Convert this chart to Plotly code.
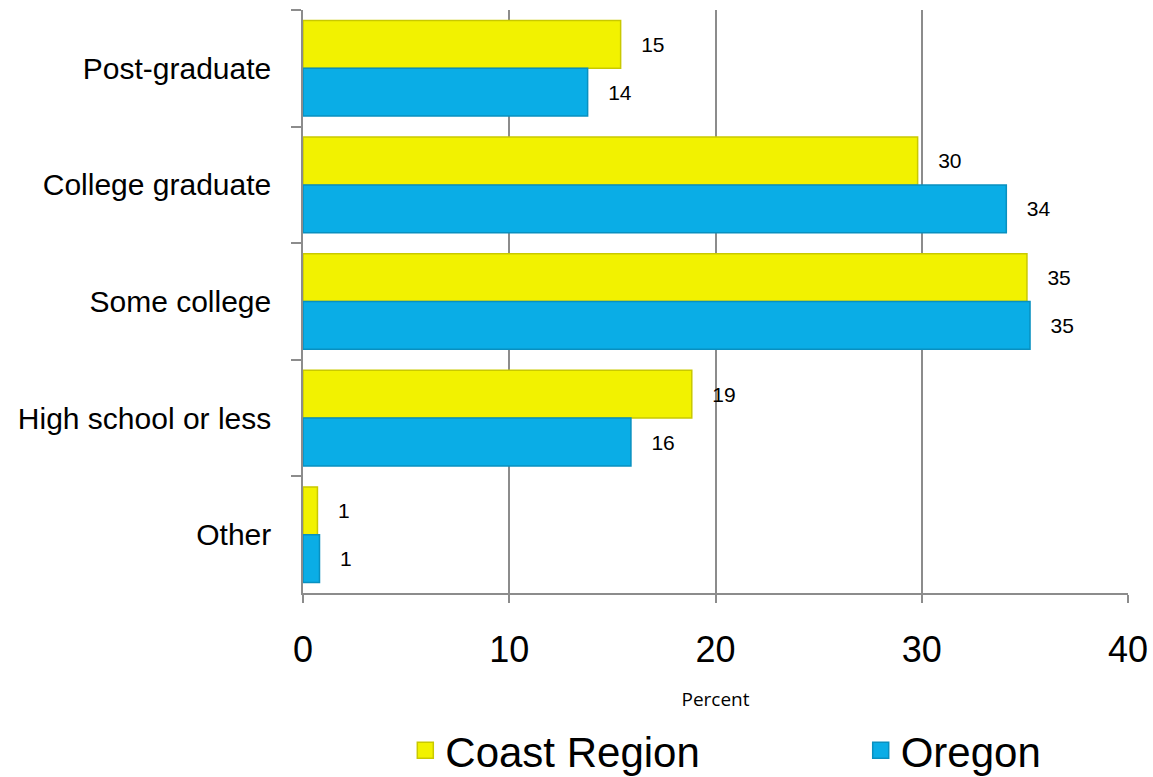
import plotly.graph_objects as go

# Education level shares, percent
categories = ["Post-graduate", "College graduate", "Some college", "High school or less", "Other"]
coast_region = [15.4, 29.8, 35.1, 18.85, 0.7]
oregon = [13.8, 34.1, 35.25, 15.9, 0.8]
x_ticks = [0, 10, 20, 30, 40]

series_names = ["Coast Region", "Oregon"]
fill_colors = ["#F2F200", "#0AADE6"]
edge_colors = ["#C9C900", "#0890C0"]
legend_ids = ["legend", "legend2"]

SANS = "Liberation Sans"
label_font = dict(family=SANS, size=21, color="#000000")
pad = "\u00a0" * 3

fig = go.Figure()
for name, values, fill, edge in zip(series_names, [coast_region, oregon], fill_colors, edge_colors):
    fig.add_trace(go.Bar(
        name=name, y=categories, x=values, orientation="h",
        marker=dict(color=fill, line=dict(color=edge, width=1.5)),
        texttemplate=pad + "%{x:.0f}", textposition="outside",
        textfont=label_font, cliponaxis=False, showlegend=False,
    ))

# legend entries with larger square swatches, one legend box per series
for name, fill, edge, lg in zip(series_names, fill_colors, edge_colors, legend_ids):
    fig.add_trace(go.Scatter(
        name=name, x=[None], y=[None], mode="markers",
        marker=dict(symbol="square", size=16, color=fill, line=dict(color=edge, width=1.5)),
        showlegend=True, legend=lg,
    ))

legend_style = dict(
    orientation="h", xanchor="left", y=-0.27, yanchor="middle",
    font=dict(size=42, family=SANS), itemwidth=30, bgcolor="rgba(0,0,0,0)",
)

fig.update_layout(
    width=1153, height=777,
    margin=dict(l=303, r=25, t=10, b=184, autoexpand=False),
    paper_bgcolor="white", plot_bgcolor="white",
    barmode="group", bargap=0.18, bargroupgap=0,
    font=dict(family=SANS, color="#000000"),
    xaxis=dict(
        range=[0, 40], tickvals=x_ticks, ticktext=[str(v) for v in x_ticks],
        showgrid=True, gridcolor="#8C8C8C", gridwidth=1.5,
        showline=True, linecolor="#8C8C8C", linewidth=1.5,
        ticks="outside", ticklen=8, tickcolor="#8C8C8C", tickwidth=1.5,
        tickfont=dict(size=36, family=SANS),
        ticklabelstandoff=16,
        zeroline=False,
        title=dict(text="Percent", font=dict(size=19, family="Open Sans, sans-serif"), standoff=24),
    ),
    yaxis=dict(
        autorange="reversed", type="category",
        showline=True, linecolor="#8C8C8C", linewidth=1.5,
        ticks="outside", tickson="boundaries", ticklen=10, tickcolor="#8C8C8C", tickwidth=1.5,
        tickfont=dict(size=30, family=SANS),
        ticklabelstandoff=24,
        showgrid=False,
    ),
    legend=dict(x=0.124, **legend_style),
    legend2=dict(x=0.676, **legend_style),
)

fig.write_html("out.html")
